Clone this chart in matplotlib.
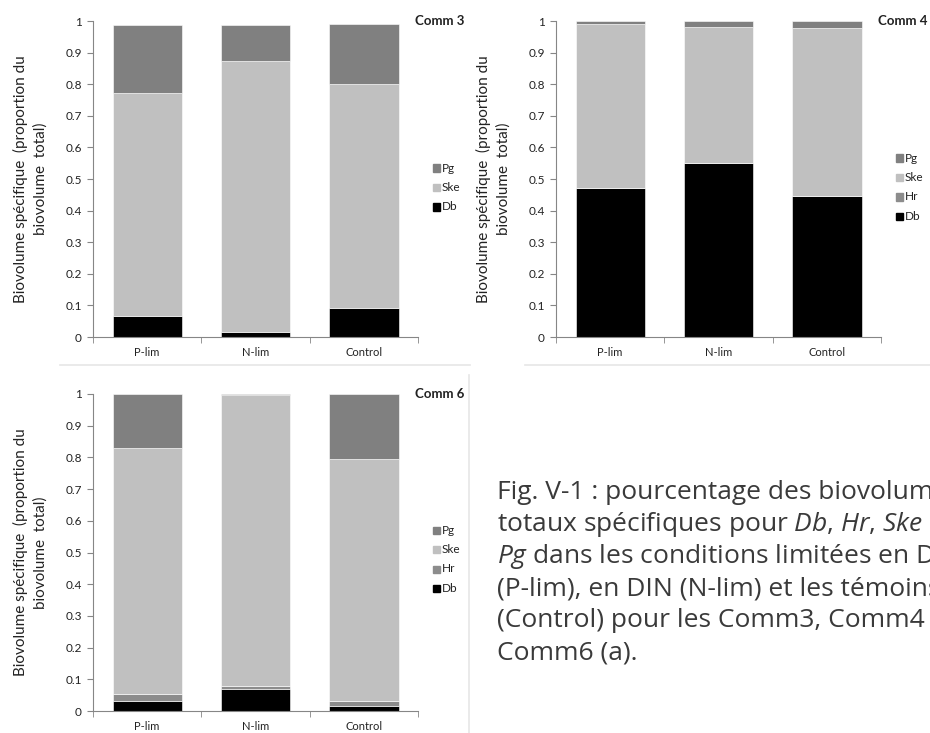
import matplotlib
matplotlib.use("Agg")
import matplotlib.pyplot as plt
import numpy as np

plt.rcParams['font.family'] = ['Lato', 'DejaVu Sans']
plt.rcParams['mathtext.fontset'] = 'custom'
plt.rcParams['mathtext.rm'] = 'Open Sans'
plt.rcParams['mathtext.it'] = 'Open Sans:italic'

categories = ["P-lim", "N-lim", "Control"]

# Comm 3 (no Hr)
c3_db = [0.068, 0.017, 0.092]
c3_ske = [0.705, 0.855, 0.708]
c3_pg = [0.215, 0.116, 0.190]

# Comm 4
c4_db = [0.470, 0.552, 0.445]
c4_hr = [0.0, 0.0, 0.0]
c4_ske = [0.520, 0.430, 0.533]
c4_pg = [0.010, 0.018, 0.022]

# Comm 6
c6_db = [0.032, 0.068, 0.016]
c6_hr = [0.023, 0.010, 0.015]
c6_ske = [0.775, 0.919, 0.764]
c6_pg = [0.170, 0.003, 0.205]

yticks = [0, 0.1, 0.2, 0.3, 0.4, 0.5, 0.6, 0.7, 0.8, 0.9, 1]
ytick_labels = ["0", "0.1", "0.2", "0.3", "0.4", "0.5", "0.6", "0.7", "0.8", "0.9", "1"]

COL = {"Db": "#000000", "Hr": "#8c8c8c", "Ske": "#c0c0c0", "Pg": "#808080"}
W, H = 930, 733
fig = plt.figure(figsize=(W / 100, H / 100), dpi=100)
AXC = "#868686"
TXT = "#222222"


def px_axes(l, r, t, b):
    return fig.add_axes([l / W, (H - b) / H, (r - l) / W, (b - t) / H])


def panel(l, r, t, b, series, title, leg_x, leg_y0):
    ax = px_axes(l, r, t, b)
    x = np.arange(len(categories))
    bottom = np.zeros(len(categories))
    for name, vals in series:
        ax.bar(x, vals, width=0.64, bottom=bottom, color=COL[name],
               edgecolor="white", linewidth=0.4)
        bottom = bottom + np.array(vals)
    ax.set_xlim(-0.5, 2.5)
    ax.set_ylim(0, 1)
    ax.set_yticks(yticks)
    ax.set_yticklabels(ytick_labels, fontsize=8.5, color=TXT)
    ax.set_xticks(x)
    ax.set_xticklabels(categories, fontsize=8, color=TXT)
    ax.set_xticks([-0.5, 0.5, 1.5, 2.5], minor=True)
    ax.tick_params(axis="x", which="major", length=0, pad=7)
    ax.tick_params(axis="x", which="minor", length=4, color=AXC)
    ax.tick_params(axis="y", length=4, color=AXC, pad=4)
    for s in ["top", "right"]:
        ax.spines[s].set_visible(False)
    for s in ["left", "bottom"]:
        ax.spines[s].set_color(AXC)
        ax.spines[s].set_linewidth(0.8)
    # y label
    fig.text((l - 63) / W, (H - (t + b) / 2) / H,
             "Biovolume spécifique  (proportion du\nbiovolume  total)",
             rotation=90, ha="center", va="center", fontsize=11,
             color=TXT, multialignment="center", linespacing=1.45)
    # title
    fig.text((r + 46) / W, (H - t) / H, title, ha="right", va="center",
             fontsize=9.5, fontweight="bold", color=TXT)
    # legend (reverse order)
    names = [n for n, _ in series][::-1]
    for i, n in enumerate(names):
        yy = leg_y0 + i * 19.5
        fig.patches.append(plt.Rectangle(((leg_x - 3.5) / W, (H - yy - 3.5) / H),
                                         7 / W, 7 / H, transform=fig.transFigure,
                                         color=COL[n], figure=fig))
        fig.text((leg_x + 6) / W, (H - yy) / H, n, fontsize=8.5,
                 va="center", ha="left", color=TXT)
    return ax


panel(93, 418, 21, 337,
      [("Db", c3_db), ("Ske", c3_ske), ("Pg", c3_pg)], "Comm 3", 436, 168)
panel(556, 881, 21, 337,
      [("Db", c4_db), ("Hr", c4_hr), ("Ske", c4_ske), ("Pg", c4_pg)], "Comm 4", 899, 158)
panel(93, 418, 394, 711,
      [("Db", c6_db), ("Hr", c6_hr), ("Ske", c6_ske), ("Pg", c6_pg)], "Comm 6", 436, 530)

# faint chart frame lines
frame_col = "#e6e6e6"
fig.add_artist(plt.Line2D([60 / W, 470 / W], [(H - 365) / H] * 2, color=frame_col, lw=1.2))
fig.add_artist(plt.Line2D([525 / W, 930 / W], [(H - 365) / H] * 2, color=frame_col, lw=1.2))
fig.add_artist(plt.Line2D([469 / W, 469 / W], [(H - 375) / H, 0], color=frame_col, lw=1.2))

# caption
caption = [
    "Fig. V-1 : pourcentage des biovolumes",
    "totaux spécifiques pour $\\it{Db}$, $\\it{Hr}$, $\\it{Ske}$ et",
    "$\\it{Pg}$ dans les conditions limitées en DIP",
    "(P-lim), en DIN (N-lim) et les témoins",
    "(Control) pour les Comm3, Comm4 et",
    "Comm6 (a).",
]
cap_font = ['Open Sans', 'DejaVu Sans']
for i, line in enumerate(caption):
    fig.text(497 / W, (H - (499 + i * 32)) / H, line, fontsize=19,
             color="#3a3a3a", ha="left", va="baseline", family=cap_font)

fig.savefig("out.png", dpi=100, facecolor="white")
